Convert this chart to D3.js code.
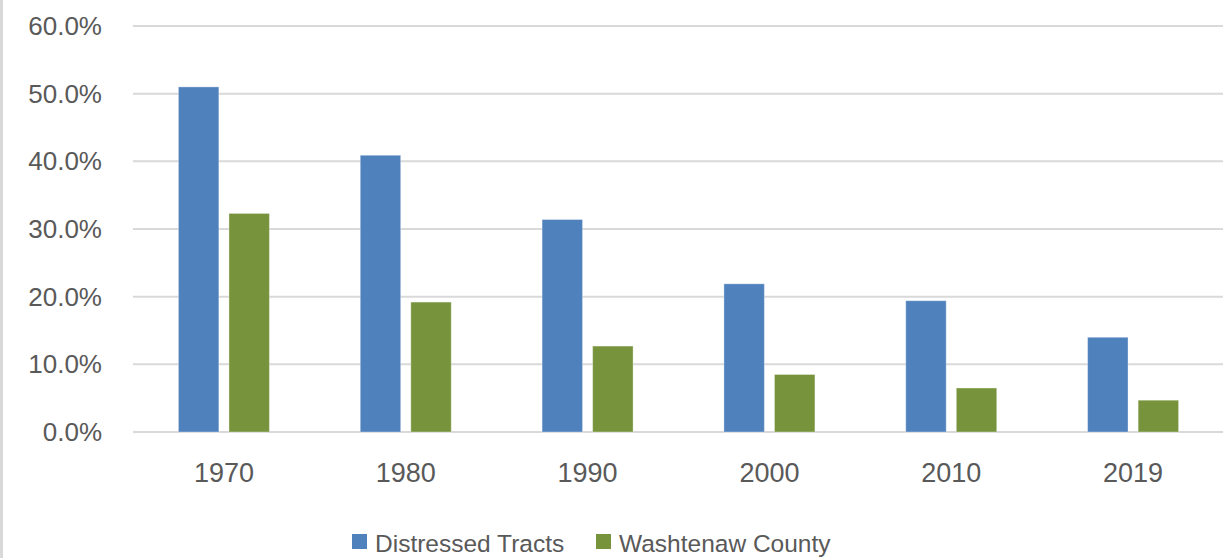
<!DOCTYPE html>
<html>
<head>
<meta charset="utf-8">
<script src="https://cdn.jsdelivr.net/npm/d3@7"></script>
<style>
  html, body { margin: 0; padding: 0; background: #fff; }
  svg { display: block; font-family: "Liberation Sans", Arial, sans-serif; }
</style>
</head>
<body>
<svg id="chart"></svg>
<script>
// data
const years = ['1970', '1980', '1990', '2000', '2010', '2019'];
const seriesNames = ['Distressed Tracts', 'Washtenaw County'];
const distressed = [0.510, 0.409, 0.314, 0.219, 0.194, 0.140];
const washtenaw = [0.323, 0.192, 0.127, 0.085, 0.065, 0.047];
const yTicks = [0, 0.1, 0.2, 0.3, 0.4, 0.5, 0.6];

const colors = ['#4F81BD', '#77933C'];
const width = 1223, height = 558;
const margin = { top: 26, right: -1, bottom: 126, left: 133 };

const svg = d3.select('#chart').attr('width', width).attr('height', height);

// left frame edge
svg.append('line')
  .attr('x1', 1.5).attr('x2', 1.5)
  .attr('y1', 0).attr('y2', height)
  .attr('stroke', '#d9d9d9').attr('stroke-width', 3);

const x0 = d3.scaleBand().domain(years).range([margin.left, width - margin.right]);
const group = 91;
const x1 = d3.scaleBand().domain(seriesNames).range([0, group]).paddingInner(0.2);
const y = d3.scaleLinear().domain([0, 0.6]).range([height - margin.bottom, margin.top]);

// gridlines
svg.append('g')
  .selectAll('line')
  .data(yTicks)
  .join('line')
  .attr('x1', margin.left).attr('x2', width)
  .attr('y1', d => y(d)).attr('y2', d => y(d))
  .attr('stroke', '#d9d9d9').attr('stroke-width', 2);

// y labels
svg.append('g')
  .selectAll('text')
  .data(yTicks)
  .join('text')
  .attr('x', 102)
  .attr('y', d => y(d))
  .attr('dy', '0.35em')
  .attr('text-anchor', 'end')
  .attr('fill', '#595959')
  .style('font-size', '26px')
  .text(d3.format('.1%'));

// bars
const rows = years.map((yr, i) => ({ year: yr, values: [distressed[i], washtenaw[i]] }));
const groups = svg.append('g')
  .selectAll('g')
  .data(rows)
  .join('g')
  .attr('transform', d => `translate(${x0(d.year) + (x0.bandwidth() - group) / 2},0)`);

groups.selectAll('rect')
  .data(d => d.values.map((v, j) => ({ name: seriesNames[j], value: v, j })))
  .join('rect')
  .attr('x', d => x1(d.name))
  .attr('width', x1.bandwidth())
  .attr('y', d => y(d.value))
  .attr('height', d => y(0) - y(d.value))
  .attr('fill', d => colors[d.j])
  .attr('stroke', '#ffffff').attr('stroke-opacity', 0.35).attr('stroke-width', 1);

// x labels
svg.append('g')
  .selectAll('text')
  .data(years)
  .join('text')
  .attr('x', d => x0(d) + x0.bandwidth() / 2)
  .attr('y', 482)
  .attr('text-anchor', 'middle')
  .attr('fill', '#595959')
  .style('font-size', '27px')
  .text(d => d);

// legend
const legendX = [352, 596];
const legend = svg.append('g')
  .selectAll('g')
  .data(seriesNames)
  .join('g')
  .attr('transform', (d, i) => `translate(${legendX[i]},0)`);
legend.append('rect')
  .attr('x', 0).attr('y', 534)
  .attr('width', 15).attr('height', 15)
  .attr('fill', (d, i) => colors[i]);
legend.append('text')
  .attr('x', 23).attr('y', 552)
  .attr('fill', '#595959')
  .style('font-size', '24.5px')
  .text(d => d);
</script>
</body>
</html>
